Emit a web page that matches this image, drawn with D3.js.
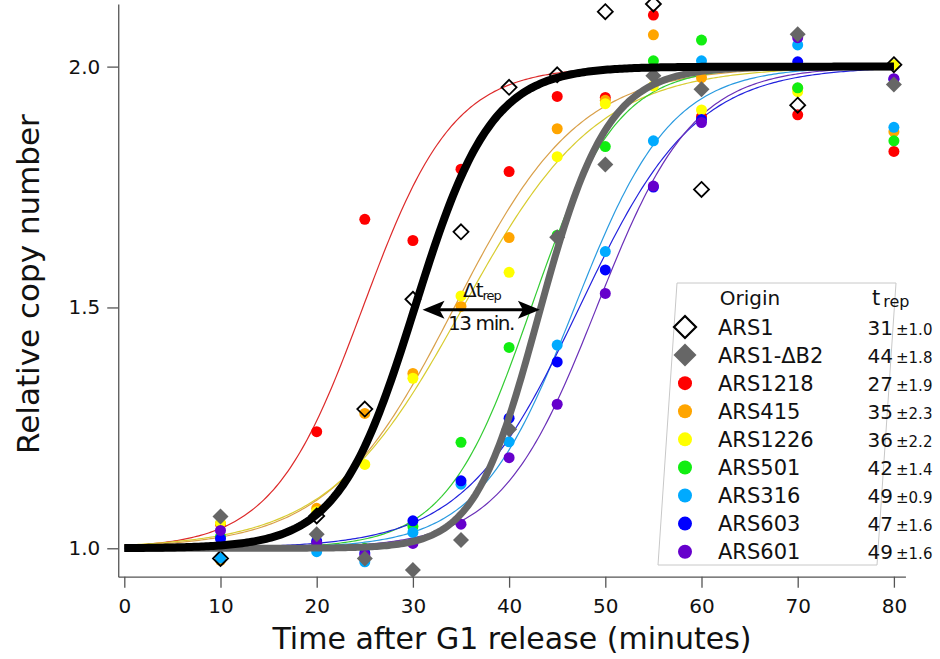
<!DOCTYPE html>
<html>
<head>
<meta charset="utf-8">
<script src="https://cdn.jsdelivr.net/npm/d3@7"></script>
<style>
  body { margin: 0; background: #fff; }
  svg { display: block; font-family: "DejaVu Sans", sans-serif; }
</style>
</head>
<body>
<div id="chart"></div>
<script>
// sampling times (minutes after G1 release)
const times = [10, 20, 25, 30, 35, 40, 45, 50, 55, 60, 70, 80];

// origins in legend order
const origins = ["ARS1", "ARS1-ΔB2", "ARS1218", "ARS415", "ARS1226", "ARS501", "ARS316", "ARS603", "ARS601"];
const trepValues = [31, 44, 27, 35, 36, 42, 49, 47, 49];
const trepErrors = ["1.0", "1.8", "1.9", "2.3", "2.2", "1.4", "0.9", "1.6", "1.6"];

// relative copy number per origin, one value per time
const ars1 = [0.979, 1.067, 1.289, 1.517, 1.657, 1.957, 1.983, 2.114, 2.130, 1.745, 1.920, 2.004];
const ars1dB2 = [1.066, 1.029, 0.979, 0.955, 1.017, 1.247, 1.646, 1.797, 1.981, 1.953, 2.067, 1.963];
const ars1218 = [1.050, 1.242, 1.683, 1.639, 1.787, 1.782, 1.938, 1.936, 2.107, 1.896, 1.900, 1.824];
const ars415 = [0.975, 1.083, 1.280, 1.363, 1.502, 1.645, 1.871, 1.930, 2.066, 1.977, 1.955, 1.865];
const ars1226 = [1.052, 1.076, 1.174, 1.353, 1.524, 1.573, 1.813, 1.923, 1.960, 1.910, 1.948, 2.004];
const ars501 = [1.024, 1.010, 1.000, 1.045, 1.220, 1.417, 1.650, 1.834, 2.012, 2.055, 1.956, 1.846];
const ars316 = [0.980, 0.993, 0.972, 1.033, 1.133, 1.221, 1.422, 1.616, 1.846, 2.012, 2.045, 1.874];
const ars603 = [1.020, 1.015, 0.990, 1.057, 1.140, 1.270, 1.387, 1.578, 1.750, 1.890, 2.010, 1.974];
const ars601 = [1.037, 1.010, 0.986, 1.010, 1.050, 1.188, 1.299, 1.529, 1.752, 1.884, 2.060, 1.975];
const seriesValues = [ars1, ars1dB2, ars1218, ars415, ars1226, ars501, ars316, ars603, ars601];

// sigmoid fit parameters (midpoint, width, asymmetry) per origin
const fitMid = [30.2, 42.0, 24.8, 34.3, 35.2, 42.3, 46.8, 47.3, 49.1];
const fitWidth = [3.95, 3.7, 4.7, 6.5, 7.0, 4.4, 5.0, 6.0, 5.0];
const fitNu = [1, 1.3, 1, 1, 1, 1, 1, 1, 1];

const dotColors = [null, "#666666", "#ff0000", "#ffa500", "#ffff00", "#11ee11", "#00aaff", "#0000ff", "#6600cc"];
const fitColors = ["#000000", "#666666", "#dd2a2a", "#d9a04a", "#d8cc30", "#33cc33", "#2a9be0", "#2222dd", "#6a2fb8"];

const xTicks = [0, 10, 20, 30, 40, 50, 60, 70, 80];
const yTicks = [1.0, 1.5, 2.0];

const width = 940, height = 659;

const svg = d3.select("#chart").append("svg")
    .attr("width", width)
    .attr("height", height);

// scales
const x = d3.scaleLinear().domain([0, 80]).range([124.3, 893.9]);
const y = d3.scaleLinear().domain([0.941, 2.13]).range([576.7, 4]);
const xAxisScale = x.copy().domain([-0.63, 81.2]).range([x(-0.63), x(81.2)]);

// axes
const xAxis = svg.append("g")
    .attr("transform", `translate(0,${y(0.941)})`)
    .call(d3.axisBottom(xAxisScale).tickValues(xTicks).tickSize(11).tickSizeOuter(0).tickPadding(11));
const yAxis = svg.append("g")
    .attr("transform", `translate(${xAxisScale(-0.63)},0)`)
    .call(d3.axisLeft(y).tickValues(yTicks).tickFormat(d3.format(".1f")).tickSize(11).tickSizeOuter(0).tickPadding(7));

[xAxis, yAxis].forEach(g => {
    g.select(".domain").attr("stroke", "#555").attr("stroke-width", 1.3);
    g.selectAll(".tick line").attr("stroke", "#555").attr("stroke-width", 1.3);
    g.selectAll(".tick text")
        .attr("fill", "#111")
        .style("font-size", "20px")
        .style("font-family", "DejaVu Sans");
});

// axis titles
svg.append("text")
    .attr("x", 512)
    .attr("y", 649)
    .attr("text-anchor", "middle")
    .style("font-size", "30px")
    .attr("fill", "#111")
    .text("Time after G1 release (minutes)");

svg.append("text")
    .attr("transform", "translate(39,284) rotate(-90)")
    .attr("text-anchor", "middle")
    .style("font-size", "31px")
    .attr("fill", "#111")
    .text("Relative copy number");

// fitted curves
function fitValue(i, t) {
    const z = (t - fitMid[i]) / fitWidth[i];
    return 1 + Math.pow(1 + Math.exp(-z), -fitNu[i]);
}
const curveTimes = d3.range(0, 80.01, 0.25);
const line = d3.line()
    .x(d => x(d[0]))
    .y(d => y(d[1]));

const plot = svg.append("g");

// thin curves for the other origins
for (let i = 2; i < origins.length; i++) {
    plot.append("path")
        .datum(curveTimes.map(t => [t, fitValue(i, t)]))
        .attr("d", line)
        .attr("fill", "none")
        .attr("stroke", fitColors[i])
        .attr("stroke-width", 1.2);
}

// coloured data points
for (let i = 2; i < origins.length; i++) {
    plot.append("g")
        .selectAll("circle")
        .data(seriesValues[i].map((v, j) => [times[j], v]))
        .enter().append("circle")
        .attr("cx", d => x(d[0]))
        .attr("cy", d => y(d[1]))
        .attr("r", 5.5)
        .attr("fill", dotColors[i]);
}

function diamondPath(half) {
    return `M0,${-half}L${half},0L0,${half}L${-half},0Z`;
}

// ARS1-dB2 filled diamonds
plot.append("g")
    .selectAll("path")
    .data(ars1dB2.map((v, j) => [times[j], v]))
    .enter().append("path")
    .attr("d", diamondPath(8))
    .attr("transform", d => `translate(${x(d[0])},${y(d[1])})`)
    .attr("fill", "#666");

// ARS1 open diamonds
plot.append("g")
    .selectAll("path")
    .data(ars1.map((v, j) => [times[j], v]))
    .enter().append("path")
    .attr("d", diamondPath(7.5))
    .attr("transform", d => `translate(${x(d[0])},${y(d[1])})`)
    .attr("fill", "none")
    .attr("stroke", "#000")
    .attr("stroke-width", 1.8);

// thick curves: ARS1-dB2 then ARS1
[1, 0].forEach(i => {
    plot.append("path")
        .datum(curveTimes.map(t => [t, fitValue(i, t)]))
        .attr("d", line)
        .attr("fill", "none")
        .attr("stroke", fitColors[i])
        .attr("stroke-width", i === 0 ? 8 : 7);
});

// delta t_rep annotation
const arrowY = y(1.495);
const ax1 = x(31), ax2 = x(43.2);
svg.append("line")
    .attr("x1", ax1 + 15).attr("x2", ax2 - 15)
    .attr("y1", arrowY).attr("y2", arrowY)
    .attr("stroke", "#000").attr("stroke-width", 3);
svg.append("path")
    .attr("d", `M${ax1},${arrowY}L${ax1 + 22},${arrowY - 9}L${ax1 + 17},${arrowY}L${ax1 + 22},${arrowY + 9}Z`)
    .attr("fill", "#000");
svg.append("path")
    .attr("d", `M${ax2},${arrowY}L${ax2 - 22},${arrowY - 9}L${ax2 - 17},${arrowY}L${ax2 - 22},${arrowY + 9}Z`)
    .attr("fill", "#000");

const dt = svg.append("text")
    .attr("x", 463)
    .attr("y", 297)
    .style("font-size", "20px")
    .style("letter-spacing", "-1px")
    .attr("fill", "#111");
dt.append("tspan").text("Δt");
dt.append("tspan").attr("dy", 3).style("font-size", "13px").text("rep");

svg.append("text")
    .attr("x", 481)
    .attr("y", 330)
    .attr("text-anchor", "middle")
    .style("font-size", "20px")
    .style("letter-spacing", "-1.4px")
    .attr("fill", "#111")
    .text("13 min.");

// legend
const legend = svg.append("g");
legend.append("path")
    .attr("d", "M677,283L896,283L877,565L658,565Z")
    .attr("fill", "none")
    .attr("stroke", "#c8c8c8")
    .attr("stroke-width", 1);

legend.append("text")
    .attr("x", 750).attr("y", 305)
    .attr("text-anchor", "middle")
    .style("font-size", "20px")
    .attr("fill", "#111")
    .text("Origin");

const th = legend.append("text")
    .attr("x", 872).attr("y", 305)
    .style("font-size", "21px")
    .attr("fill", "#111");
th.append("tspan").text("t");
th.append("tspan").attr("dx", 3).attr("dy", 2).style("font-size", "16px").text("rep");

const rowY = d3.scaleLinear().domain([0, 8]).range([327, 551.7]);

origins.forEach((name, i) => {
    const cy = rowY(i);
    if (i === 0) {
        legend.append("path")
            .attr("d", diamondPath(11))
            .attr("transform", `translate(685,${cy})`)
            .attr("fill", "none")
            .attr("stroke", "#000")
            .attr("stroke-width", 2.2);
    } else if (i === 1) {
        legend.append("path")
            .attr("d", diamondPath(11.5))
            .attr("transform", `translate(685,${cy})`)
            .attr("fill", "#666");
    } else {
        legend.append("circle")
            .attr("cx", 685).attr("cy", cy).attr("r", 7)
            .attr("fill", dotColors[i]);
    }
    legend.append("text")
        .attr("x", 718).attr("y", cy + 7.5)
        .style("font-size", "21px")
        .attr("fill", "#111")
        .text(name);
    legend.append("text")
        .attr("x", 893).attr("y", cy + 7.5)
        .attr("text-anchor", "end")
        .style("font-size", "20px")
        .attr("fill", "#111")
        .text(trepValues[i]);
    legend.append("text")
        .attr("x", 896).attr("y", cy + 7.5)
        .style("font-size", "15px")
        .attr("fill", "#111")
        .text("±" + trepErrors[i]);
});
</script>
</body>
</html>
